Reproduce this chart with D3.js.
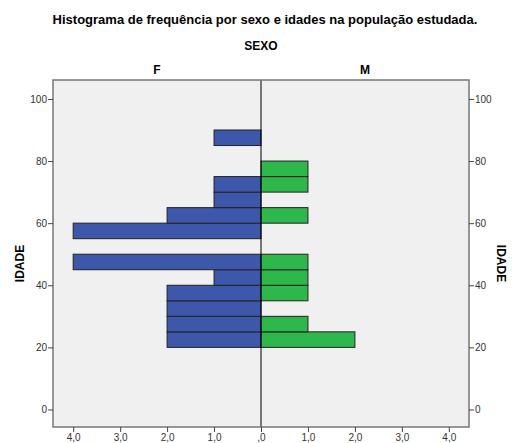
<!DOCTYPE html>
<html>
<head>
<meta charset="utf-8">
<script src="https://cdn.jsdelivr.net/npm/d3@7"></script>
<style>
  body { margin: 0; background: #fff; }
  text { font-family: "Liberation Sans", Arial, sans-serif; }
</style>
</head>
<body>
<div id="chart"></div>
<script>
// age bins (5-year) and counts per sex
const binStarts = [20, 25, 30, 35, 40, 45, 50, 55, 60, 65, 70, 75, 80, 85];
const femaleCounts = [2, 2, 2, 2, 1, 4, 0, 4, 2, 1, 1, 0, 0, 1];
const maleCounts   = [2, 1, 0, 1, 1, 1, 0, 0, 1, 0, 1, 1, 0, 0];
const binWidth = 5;
const yTicks = [0, 20, 40, 60, 80, 100];
const xTicks = [0, 1, 2, 3, 4];

const width = 512, height = 443;
const frame = { left: 53, right: 469, top: 80, bottom: 427 };
const mid = 261;

const svg = d3.select("#chart").append("svg")
  .attr("width", width)
  .attr("height", height);

svg.append("text")
  .attr("x", 265).attr("y", 24)
  .attr("text-anchor", "middle")
  .style("font-size", "13px").style("font-weight", "bold")
  .text("Histograma de frequência por sexo e idades na população estudada.");

svg.append("text")
  .attr("x", 261).attr("y", 50)
  .attr("text-anchor", "middle")
  .style("font-size", "12px").style("font-weight", "bold")
  .text("SEXO");

svg.append("text")
  .attr("x", 157).attr("y", 74)
  .attr("text-anchor", "middle")
  .style("font-size", "12px").style("font-weight", "bold")
  .text("F");
svg.append("text")
  .attr("x", 365).attr("y", 74)
  .attr("text-anchor", "middle")
  .style("font-size", "12px").style("font-weight", "bold")
  .text("M");

// scales
const y = d3.scaleLinear().domain([-5.64, 106.1]).range([frame.bottom, frame.top]);
const xF = d3.scaleLinear().domain([4.43, 0]).range([frame.left, mid]);
const xM = d3.scaleLinear().domain([0, 4.43]).range([mid, frame.right]);

// background
svg.append("rect")
  .attr("x", frame.left).attr("y", frame.top)
  .attr("width", frame.right - frame.left)
  .attr("height", frame.bottom - frame.top)
  .attr("fill", "#f0f0f0");

const fData = binStarts.map((b, i) => ({ start: b, count: femaleCounts[i] })).filter(d => d.count > 0);
const mData = binStarts.map((b, i) => ({ start: b, count: maleCounts[i] })).filter(d => d.count > 0);

svg.selectAll(".barF").data(fData).enter()
  .append("rect")
  .attr("class", "barF")
  .attr("x", d => xF(d.count))
  .attr("y", d => y(d.start + binWidth))
  .attr("width", d => mid - xF(d.count))
  .attr("height", d => y(d.start) - y(d.start + binWidth))
  .attr("fill", "#3d58aa")
  .attr("stroke", "#222")
  .attr("stroke-width", 1);

svg.selectAll(".barM").data(mData).enter()
  .append("rect")
  .attr("class", "barM")
  .attr("x", mid)
  .attr("y", d => y(d.start + binWidth))
  .attr("width", d => xM(d.count) - mid)
  .attr("height", d => y(d.start) - y(d.start + binWidth))
  .attr("fill", "#2eb74a")
  .attr("stroke", "#222")
  .attr("stroke-width", 1);

// center divider
svg.append("line")
  .attr("x1", mid).attr("x2", mid)
  .attr("y1", frame.top).attr("y2", frame.bottom)
  .attr("stroke", "#000").attr("stroke-width", 1);

// frame
svg.append("rect")
  .attr("x", frame.left).attr("y", frame.top)
  .attr("width", frame.right - frame.left)
  .attr("height", frame.bottom - frame.top)
  .attr("fill", "none")
  .attr("stroke", "#777").attr("stroke-width", 1.5);

// axes
function styleAxis(g) {
  g.select(".domain").remove();
  g.selectAll(".tick line").attr("stroke", "#444");
  g.selectAll(".tick text").attr("fill", "#333").style("font-size", "10px");
}

svg.append("g")
  .attr("transform", `translate(${frame.left},0)`)
  .call(d3.axisLeft(y).tickValues(yTicks).tickSize(5).tickPadding(1))
  .call(styleAxis);

svg.append("g")
  .attr("transform", `translate(${frame.right},0)`)
  .call(d3.axisRight(y).tickValues(yTicks).tickSize(5).tickPadding(1))
  .call(styleAxis);

const fmt = v => v === 0 ? ",0" : d3.format(".1f")(v).replace(".", ",");

svg.append("g")
  .attr("transform", `translate(0,${frame.bottom})`)
  .call(d3.axisBottom(xF).tickValues(xTicks.slice(1)).tickSize(5).tickPadding(2).tickFormat(fmt))
  .call(styleAxis);

svg.append("g")
  .attr("transform", `translate(0,${frame.bottom})`)
  .call(d3.axisBottom(xM).tickValues(xTicks).tickSize(5).tickPadding(2).tickFormat(fmt))
  .call(styleAxis);

// y axis titles
svg.append("text")
  .attr("transform", `translate(24,${y(47)}) rotate(-90)`)
  .attr("text-anchor", "middle")
  .style("font-size", "12px").style("font-weight", "bold")
  .text("IDADE");

svg.append("text")
  .attr("transform", `translate(497,${y(47)}) rotate(90)`)
  .attr("text-anchor", "middle")
  .style("font-size", "12px").style("font-weight", "bold")
  .text("IDADE");
</script>
</body>
</html>
